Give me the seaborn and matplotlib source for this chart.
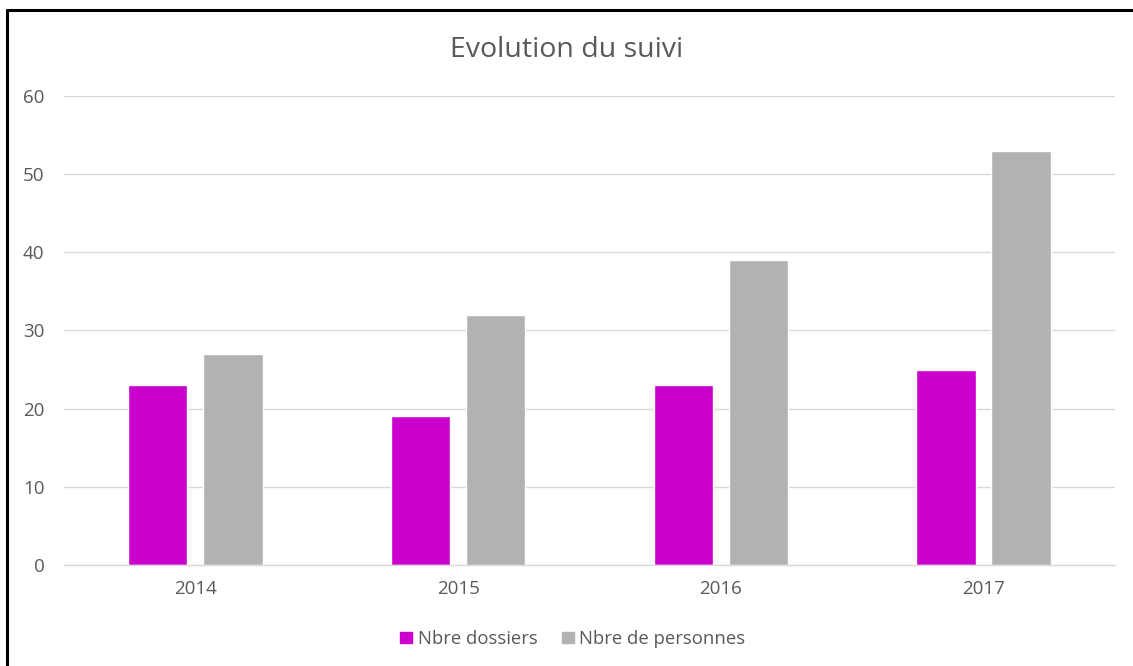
import matplotlib
matplotlib.use("Agg")
import matplotlib.pyplot as plt
from matplotlib.lines import Line2D
import pandas as pd
import seaborn as sns

years = ["2014", "2015", "2016", "2017"]
series = ["Nbre dossiers", "Nbre de personnes"]
dossiers = [23, 19, 23, 25]
personnes = [27, 32, 39, 53]
y_ticks = [0, 10, 20, 30, 40, 50, 60]

colors = {"Nbre dossiers": "#CC00CC", "Nbre de personnes": "#B2B2B2"}
text_color = "#595959"
grid_color = "#D9D9D9"

df = pd.DataFrame({
    "year": years * 2,
    "serie": [series[0]] * len(years) + [series[1]] * len(years),
    "value": dossiers + personnes,
})

sns.set_theme(style="white")
plt.rcParams["font.family"] = ["Open Sans", "DejaVu Sans"]

fig = plt.figure(figsize=(11.33, 6.66), dpi=100)
ax = fig.add_axes([0.0565, 0.1517, 0.9275, 0.7043])

sns.barplot(data=df, x="year", y="value", hue="serie", palette=colors,
            width=0.571, gap=0.21, ax=ax, saturation=1, legend=False)

ax.set_ylim(0, 60)
ax.set_xlim(-0.5, 3.5)
ax.set_yticks(y_ticks)
ax.yaxis.grid(True, color=grid_color, linewidth=1)
ax.set_axisbelow(True)
for side in ["top", "right", "left"]:
    ax.spines[side].set_visible(False)
ax.spines["bottom"].set_color(grid_color)
ax.spines["bottom"].set_linewidth(1)
ax.tick_params(axis="both", length=0, colors=text_color, labelsize=13.5)
ax.tick_params(axis="x", pad=11)
ax.tick_params(axis="y", pad=14)
ax.set_xlabel("")
ax.set_ylabel("")

fig.text(0.5, 1 - 50 / 666, "Evolution du suivi", ha="center", va="center",
         fontsize=20.5, color=text_color)

handles = [plt.Rectangle((0, 0), 1, 1, color=colors[s]) for s in series]
fig.legend(handles, series, loc="center", bbox_to_anchor=(0.5055, 1 - 639 / 666),
           ncol=2, frameon=False, fontsize=13.3, labelcolor=text_color,
           handlelength=0.65, handleheight=0.5, handletextpad=0.3,
           columnspacing=1.3)

# black border left/top as in the screenshot
fig.add_artist(Line2D([7 / 1133, 7 / 1133], [0, 1 - 10 / 666],
                      color="black", linewidth=2.2, transform=fig.transFigure))
fig.add_artist(Line2D([7 / 1133, 1], [1 - 10 / 666, 1 - 10 / 666],
                      color="black", linewidth=2.2, transform=fig.transFigure))

fig.savefig("out.png", dpi=100, facecolor="white")
